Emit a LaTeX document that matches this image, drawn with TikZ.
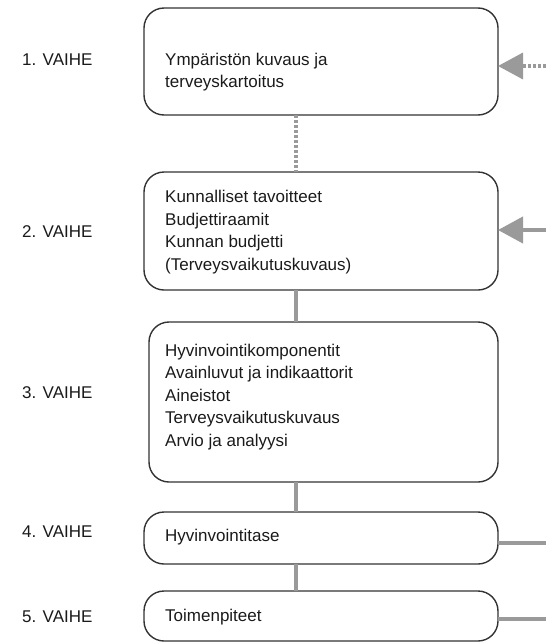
\documentclass[tikz,border=0pt]{standalone}
\usepackage{fontspec}
\setmainfont{Liberation Sans}
\usetikzlibrary{arrows.meta}
\definecolor{boxline}{HTML}{333333}
\definecolor{conngray}{HTML}{9A9A9A}
\definecolor{txtcol}{HTML}{1A1A1A}
\tikzset{
  stagebox/.style={draw=boxline, line width=1.4pt, rounded corners=20pt, inner sep=0pt, outer sep=0pt},
  boxtext/.style={anchor=west, align=left, inner sep=0pt, text=txtcol, font=\fontsize{17}{22.5}\selectfont},
  phase/.style={anchor=west, inner sep=0pt, text=txtcol, font=\fontsize{17}{22.5}\selectfont},
  conn/.style={draw=conngray, line width=4pt},
  dotconn/.style={draw=conngray, line width=3.5pt, dash pattern=on 3pt off 2pt},
  bigtip/.style={-{Triangle[length=25pt,width=26pt,fill=conngray,color=conngray]}}
}
\begin{document}
\begin{tikzpicture}[x=1pt,y=-1pt]
\useasboundingbox (0,0) rectangle (546,643);
\coordinate (cx) at (296,0);
% boxes
\node[stagebox, minimum width=354pt, minimum height=107pt] (b1) at (321,61.5) {};
\node[stagebox, minimum width=354pt, minimum height=118pt] (b2) at (321,231) {};
\node[stagebox, minimum width=349pt, minimum height=160pt] (b3) at (323.5,402) {};
\node[stagebox, minimum width=354pt, minimum height=52pt] (b4) at (321,538) {};
\node[stagebox, minimum width=354pt, minimum height=50pt] (b5) at (321,616) {};
% box texts
\node[boxtext] (t1) at (165,72) {Ympäristön kuvaus ja\\terveyskartoitus};
\node[boxtext] (t2) at (165,232) {Kunnalliset tavoitteet\\Budjettiraamit\\Kunnan budjetti\\(Terveysvaikutuskuvaus)};
\node[boxtext] (t3) at (165,397) {Hyvinvointikomponentit\\Avainluvut ja indikaattorit\\Aineistot\\Terveysvaikutuskuvaus\\Arvio ja analyysi};
\node[boxtext] (t4) at (165,537) {Hyvinvointitase};
\node[boxtext] (t5) at (165,617) {Toimenpiteet};
% phase labels
\node[phase] (p1) at (22,60) {1. VAIHE};
\node[phase] (p2) at (22,232) {2. VAIHE};
\node[phase] (p3) at (22,393) {3. VAIHE};
\node[phase] (p4) at (22,532) {4. VAIHE};
\node[phase] (p5) at (22,617) {5. VAIHE};
% vertical connectors
\draw[dotconn] (b1.south -| cx) -- (b2.north -| cx);
\draw[conn] (b2.south -| cx) -- (b3.north -| cx);
\draw[conn] (b3.south -| cx) -- (b4.north -| cx);
\draw[conn] (b4.south -| cx) -- (b5.north -| cx);
% right side inputs
\coordinate (e1) at (546,66);
\coordinate (e2) at (546,230);
\coordinate (e4) at (546,543);
\coordinate (e5) at (546,619);
\draw[dotconn, bigtip] (e1) -- (b1.east |- e1);
\draw[conn, bigtip] (e2) -- (b2.east |- e2);
\draw[conn] (b4.east |- e4) -- (e4);
\draw[conn] (b5.east |- e5) -- (e5);
\end{tikzpicture}
\end{document}
